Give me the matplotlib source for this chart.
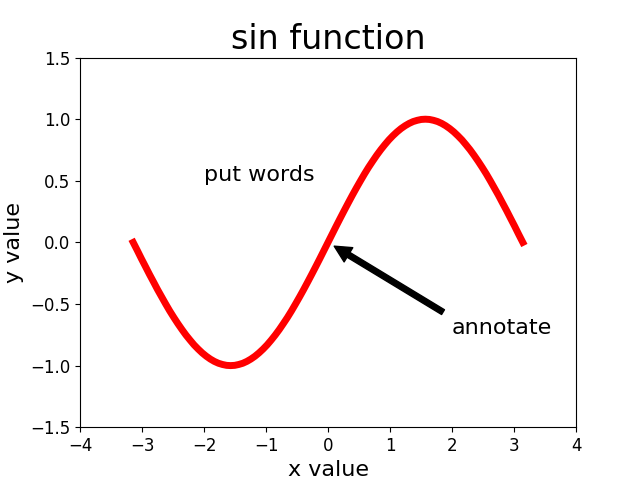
import matplotlib
matplotlib.use("Agg")
import matplotlib.pyplot as plt

x_pos = [0.0, 0.065, 0.131, 0.196, 0.262, 0.327, 0.393, 0.458, 0.524, 0.589,
         0.654, 0.720, 0.785, 0.851, 0.916, 0.982, 1.047, 1.113, 1.178, 1.244,
         1.309, 1.374, 1.440, 1.505, 1.571, 1.636, 1.702, 1.767, 1.833, 1.898,
         1.963, 2.029, 2.094, 2.160, 2.225, 2.291, 2.356, 2.422, 2.487, 2.553,
         2.618, 2.683, 2.749, 2.814, 2.880, 2.945, 3.011, 3.076, 3.142]
y_pos = [0.0, 0.065, 0.131, 0.195, 0.259, 0.321, 0.383, 0.442, 0.5, 0.556,
         0.609, 0.659, 0.707, 0.752, 0.793, 0.832, 0.866, 0.897, 0.924, 0.947,
         0.966, 0.981, 0.991, 0.998, 1.0, 0.998, 0.991, 0.981, 0.966, 0.947,
         0.924, 0.897, 0.866, 0.832, 0.793, 0.752, 0.707, 0.659, 0.609, 0.556,
         0.5, 0.442, 0.383, 0.321, 0.259, 0.195, 0.131, 0.065, 0.0]

# negative half mirrors the positive half
x_vals = [-v for v in reversed(x_pos[1:])] + x_pos
y_vals = [-v for v in reversed(y_pos[1:])] + y_pos

fig = plt.figure(figsize=(6.4, 4.8), dpi=100)
ax = fig.add_subplot(111)
ax.plot(x_vals, y_vals, color="red", linewidth=5)
ax.set_xlim(-4, 4)
ax.set_ylim(-1.5, 1.5)
ax.set_title("sin function", fontsize=24)
ax.set_xlabel("x value", fontsize=16)
ax.set_ylabel("y value", fontsize=16)
ax.tick_params(labelsize=12)
ax.text(-2, 0.5, "put words", fontsize=16)
ax.annotate("annotate", xy=(0, 0), xytext=(2, -0.74), fontsize=16,
            arrowprops=dict(facecolor="black", shrink=0.05))
fig.savefig("out.png", dpi=100)
